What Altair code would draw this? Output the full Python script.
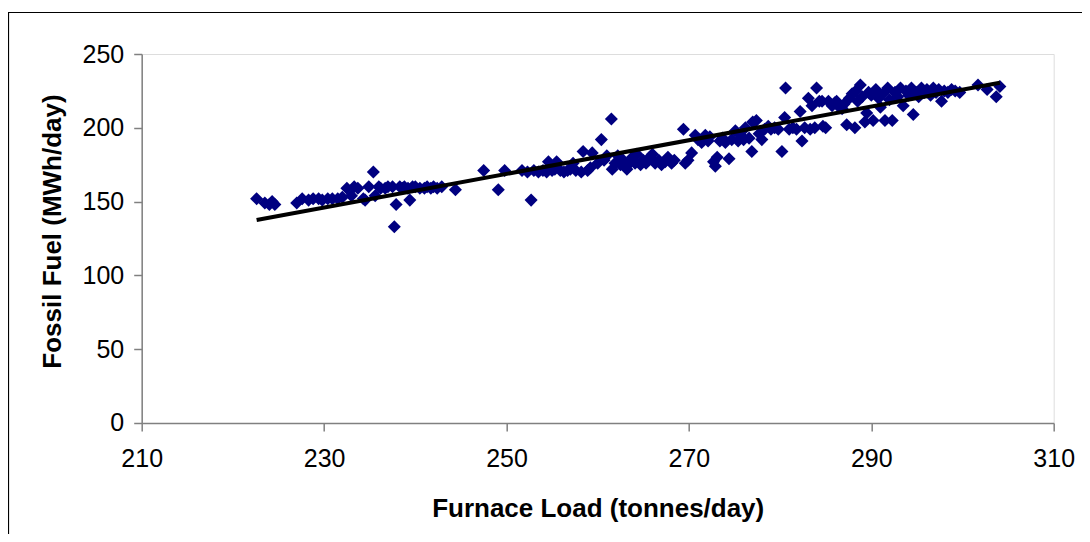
import altair as alt
import pandas as pd

# Furnace load (tonnes/day) and fossil fuel (MWh/day)
load = [
    222.6, 223.5, 224.0, 224.3, 224.6, 227.0, 227.6, 228.3, 228.8, 229.4,
    229.8, 230.4, 230.9, 231.5, 232.0, 232.5, 233.0, 233.3, 233.7, 234.3,
    234.5, 234.9, 235.4, 235.6, 236.0, 236.2, 236.7, 237.0, 237.5, 237.7,
    237.9, 238.3, 238.6, 238.8, 239.2, 239.4, 239.7, 240.0, 240.5, 241.0,
    241.3, 241.7, 242.0, 242.4, 242.9, 244.4,
    247.5, 249.1, 249.8, 251.7, 252.3, 252.7, 253.0, 253.5, 254.0, 254.4,
    254.6, 255.0, 255.3, 255.5, 255.9, 256.3, 256.7, 257.0, 257.3, 257.6,
    258.2, 258.4, 258.9, 259.2, 259.4, 260.0, 260.4, 260.7, 261.0, 261.5,
    261.6, 261.9, 262.2, 262.5, 262.8, 263.2, 263.5, 263.8, 264.1, 264.3,
    264.7, 265.0, 265.3, 265.7, 266.0, 266.3, 266.7, 267.0, 267.4, 267.7,
    268.1, 268.4,
    269.4, 269.6, 269.9, 270.3, 270.7, 271.0, 271.4, 271.8, 272.1, 272.3,
    272.7, 272.9, 273.1, 273.4, 273.7, 274.0, 274.4, 274.7, 275.1, 275.4,
    275.7, 276.0, 276.2, 276.6, 276.9, 277.0, 277.4, 277.7, 278.0, 278.3,
    278.7, 279.0, 279.4, 279.8, 280.2, 280.5, 280.6, 281.0, 281.4, 281.8,
    282.2, 282.4, 282.7, 283.1, 283.3, 283.5, 283.8, 284.0, 284.3, 284.6,
    284.7, 285.0, 285.3, 285.7, 286.0, 286.2, 286.5, 286.8, 287.0, 287.3,
    287.6, 287.9, 288.2, 288.3, 288.5, 288.8, 289.0, 289.3, 289.5, 289.7,
    290.0, 290.2, 290.5, 290.8, 291.0, 291.3, 291.5, 291.8, 292.0, 292.3,
    292.6, 292.9, 293.2, 293.5, 293.8, 294.1, 294.4, 294.6, 294.9, 295.2,
    295.5, 295.8, 296.1, 296.5, 296.8, 297.1, 297.4, 297.7, 298.0, 298.4,
    298.8, 299.2, 299.7, 301.7, 302.7, 303.7, 304.1,
]
fuel = [
    152, 149, 148, 150, 148, 149, 152, 151, 152, 152,
    151, 152, 152, 152, 153, 159, 154, 160, 159, 152,
    151, 160, 170, 154, 160, 159, 159, 160, 160, 133,
    148, 160, 159, 160, 159, 151, 160, 160, 159, 159,
    160, 159, 160, 159, 160, 158,
    171, 158, 171, 171, 170, 151, 171, 170, 171, 170,
    177, 171, 172, 177, 171, 170, 171, 172, 176, 171,
    170, 184, 171, 173, 183, 176, 192, 178, 181, 206,
    172, 176, 181, 175, 178, 172, 176, 180, 176, 182,
    175, 178, 176, 180, 182, 176, 178, 175, 177, 180,
    176, 178,
    199, 176, 178, 183, 195, 192, 190, 195, 191, 194,
    177, 174, 180, 191, 193, 190, 179, 192, 198, 191,
    195, 192, 200, 193, 184, 204, 205, 196, 192, 199,
    201, 199, 200, 199, 184, 207, 227, 199, 200, 199,
    211, 191, 200, 220, 199, 215, 200, 227, 218, 218,
    201, 200, 218, 215, 217, 218, 214, 213, 216, 202,
    220, 223, 200, 225, 218, 229, 221, 204, 210, 224,
    222, 205, 226, 220, 214, 223, 205, 227, 219, 205,
    224, 221, 227, 215, 225, 222, 227, 209, 224, 221,
    227, 224, 226, 222, 227, 224, 226, 218, 225, 224,
    226, 225, 224, 229, 226, 221, 228,
]
# Linear trend line end points
trend_load = [222.6, 304.1]
trend_fuel = [137.5, 230.5]

x_ticks = [210, 230, 250, 270, 290, 310]
y_ticks = [0, 50, 100, 150, 200, 250]

pts = pd.DataFrame({"load": load, "fuel": fuel})
tr = pd.DataFrame({"load": trend_load, "fuel": trend_fuel})

FONT = "Liberation Sans"
GREY = "#808080"

xs = alt.Scale(domain=[210, 310], nice=False, zero=False)
ys = alt.Scale(domain=[0, 250], nice=False)

xaxis = alt.Axis(
    title="Furnace Load (tonnes/day)", values=x_ticks, grid=False,
    domainColor=GREY, tickColor=GREY, tickSize=8, domainWidth=1.5, tickWidth=1.5,
    labelFont=FONT, labelFontSize=25, labelColor="black", labelPadding=16,
    labelFlush=False, labelOverlap=False,
    titleFont=FONT, titleFontSize=26, titleFontWeight="bold", titleColor="black",
    titleY=94, titleBaseline="alphabetic",
)
yaxis = alt.Axis(
    title="Fossil Fuel (MWh/day)", values=y_ticks, grid=False,
    domainColor=GREY, tickColor=GREY, tickSize=8, domainWidth=1.5, tickWidth=1.5,
    labelFont=FONT, labelFontSize=25, labelColor="black", labelPadding=10,
    labelFlush=False, labelOverlap=False,
    titleFont=FONT, titleFontSize=26, titleFontWeight="bold", titleColor="black",
    titleX=-81, titleY=177, titleAlign="center", titleBaseline="alphabetic",
    titleAngle=270,
)

frame = alt.Chart(pd.DataFrame({"a": [0]})).mark_rect(
    fillOpacity=0, stroke="#000000", strokeWidth=1.2
).encode(
    x=alt.value(-133.2), y=alt.value(-41.5), x2=alt.value(3000), y2=alt.value(3000)
)

scatter = alt.Chart(pts).mark_point(
    shape="diamond", filled=True, size=170, color="#000080", opacity=1
).encode(
    x=alt.X("load:Q", scale=xs, axis=xaxis),
    y=alt.Y("fuel:Q", scale=ys, axis=yaxis),
)

trend = alt.Chart(tr).mark_line(color="black", strokeWidth=4).encode(
    x=alt.X("load:Q", scale=xs),
    y=alt.Y("fuel:Q", scale=ys),
)

chart = alt.layer(frame, scatter, trend).properties(
    width=912, height=369,
    autosize=alt.AutoSizeParams(type="none"),
    padding={"left": 133.7, "top": 46, "right": 28, "bottom": 111},
).configure_view(stroke=None).configure(background="white")

chart.save("out.html", embed_options={"renderer": "svg", "actions": False})
